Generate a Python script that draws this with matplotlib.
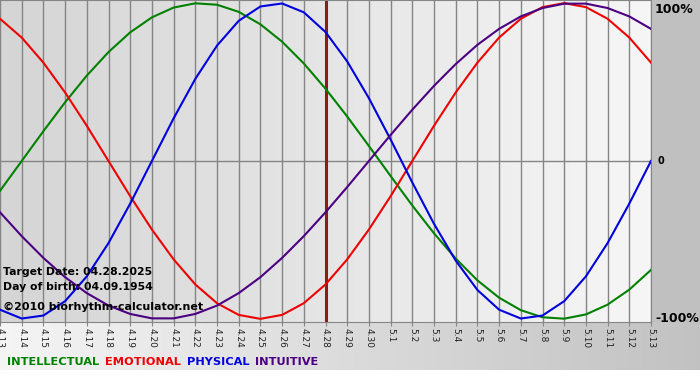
import matplotlib.pyplot as plt
import numpy as np

# day labels, 4.13 .. 5.13 (2025)
days = ['4.13', '4.14', '4.15', '4.16', '4.17', '4.18', '4.19', '4.20', '4.21',
        '4.22', '4.23', '4.24', '4.25', '4.26', '4.27', '4.28', '4.29', '4.30',
        '5.1', '5.2', '5.3', '5.4', '5.5', '5.6', '5.7', '5.8', '5.9', '5.10',
        '5.11', '5.12', '5.13']
target_day = '4.28'

# cycle values (-1 .. 1), one per day
intellectual = [-0.189, 0.0, 0.189, 0.372, 0.541, 0.690, 0.815, 0.910, 0.972,
                0.999, 0.990, 0.945, 0.866, 0.756, 0.618, 0.458, 0.282, 0.095,
                -0.095, -0.282, -0.458, -0.618, -0.756, -0.866, -0.945, -0.990,
                -0.999, -0.972, -0.910, -0.815, -0.690]
emotional = [0.901, 0.782, 0.623, 0.434, 0.223, 0.0, -0.223, -0.434, -0.623,
             -0.782, -0.901, -0.975, -1.0, -0.975, -0.901, -0.782, -0.623,
             -0.434, -0.223, 0.0, 0.223, 0.434, 0.623, 0.782, 0.901, 0.975,
             1.0, 0.975, 0.901, 0.782, 0.623]
physical = [-0.942, -0.998, -0.979, -0.888, -0.731, -0.520, -0.270, 0.0, 0.270,
            0.520, 0.731, 0.888, 0.979, 0.998, 0.942, 0.817, 0.631, 0.398,
            0.136, -0.136, -0.398, -0.631, -0.817, -0.942, -0.998, -0.979,
            -0.888, -0.731, -0.520, -0.270, 0.0]
intuitive = [-0.325, -0.476, -0.614, -0.736, -0.837, -0.916, -0.969, -0.997,
             -0.997, -0.969, -0.916, -0.837, -0.736, -0.614, -0.476, -0.325,
             -0.165, 0.0, 0.165, 0.325, 0.476, 0.614, 0.736, 0.837, 0.916,
             0.969, 0.997, 0.997, 0.969, 0.916, 0.837]

series = [('INTELLECTUAL', intellectual, '#008000'),
          ('EMOTIONAL', emotional, '#ee0000'),
          ('PHYSICAL', physical, '#0000dd'),
          ('INTUITIVE', intuitive, '#4b0082')]

W, H = 700, 380
px_right, px_bottom = 651, 322

fig = plt.figure(figsize=(W / 100, H / 100), dpi=100)

# background: plot gradient, grey side column, label band gradient
bg = np.ones((H, W, 3))
xs = np.linspace(0, 1, W)
plot_grad = 0.835 + (0.975 - 0.835) * xs[:px_right]
bg[:px_bottom, :px_right, :] = plot_grad[None, :, None]
bg[:px_bottom, px_right:, :] = 0.753
band = 0.96 - (0.96 - 0.76) * xs
bg[px_bottom:370, :, :] = band[None, :, None]
bax = fig.add_axes([0, 0, 1, 1])
bax.imshow(bg, aspect='auto', extent=(0, W, H, 0))
bax.set_axis_off()

ax = fig.add_axes([0, 1 - px_bottom / H, px_right / W, px_bottom / H])
ax.set_facecolor('none')
x = np.arange(len(days))
for xi in x:
    ax.axvline(xi, color='#858585', lw=1, zorder=1)
ax.axhline(0, color='#858585', lw=1, zorder=1)
ax.axvline(days.index(target_day), color='#8b1c1c', lw=2.2, zorder=2)

for name, vals, col in series:
    ax.plot(x, vals, color=col, lw=1.5, zorder=3)

ax.set_xlim(0, len(days) - 1)
ax.set_ylim(-1.02, 1.02)
ax.set_yticks([])
ax.set_xticks(x)
ax.set_xticklabels(days, rotation=270, fontsize=6.5, color='#222222')
ax.tick_params(axis='x', length=3, color='#858585', pad=1)
for s in ['top', 'right', 'bottom']:
    ax.spines[s].set_color('#858585')
ax.spines['left'].set_visible(False)

# right axis labels
tr = ax.get_yaxis_transform()
ax.text(1.006, 1.0, '100%', transform=tr, fontsize=9, fontweight='bold',
        va='top', ha='left', clip_on=False)
ax.text(1.01, 0.0, '0', transform=tr, fontsize=7, fontweight='bold',
        va='center', ha='left', clip_on=False)
ax.text(1.006, -1.0, '-100%', transform=tr, fontsize=9, fontweight='bold',
        va='center', ha='left', clip_on=False)

# info text
fig.text(3 / W, 1 - 272 / H, 'Target Date: 04.28.2025', fontsize=7.8,
         fontweight='bold', va='center', ha='left')
fig.text(3 / W, 1 - 287 / H, 'Day of birth: 04.09.1954', fontsize=7.8,
         fontweight='bold', va='center', ha='left')
fig.text(3 / W, 1 - 307 / H, '\u00a92010 biorhythm-calculator.net', fontsize=8,
         fontweight='bold', va='center', ha='left')

# legend row
xpos = 7
for name, vals, col in series:
    t = fig.text(xpos / W, 1 - 362 / H, name, fontsize=8.2, fontweight='bold',
                 color=col, va='center', ha='left')
    fig.canvas.draw()
    bb = t.get_window_extent()
    xpos = bb.x1 + 6

fig.savefig('out.png', dpi=100)
